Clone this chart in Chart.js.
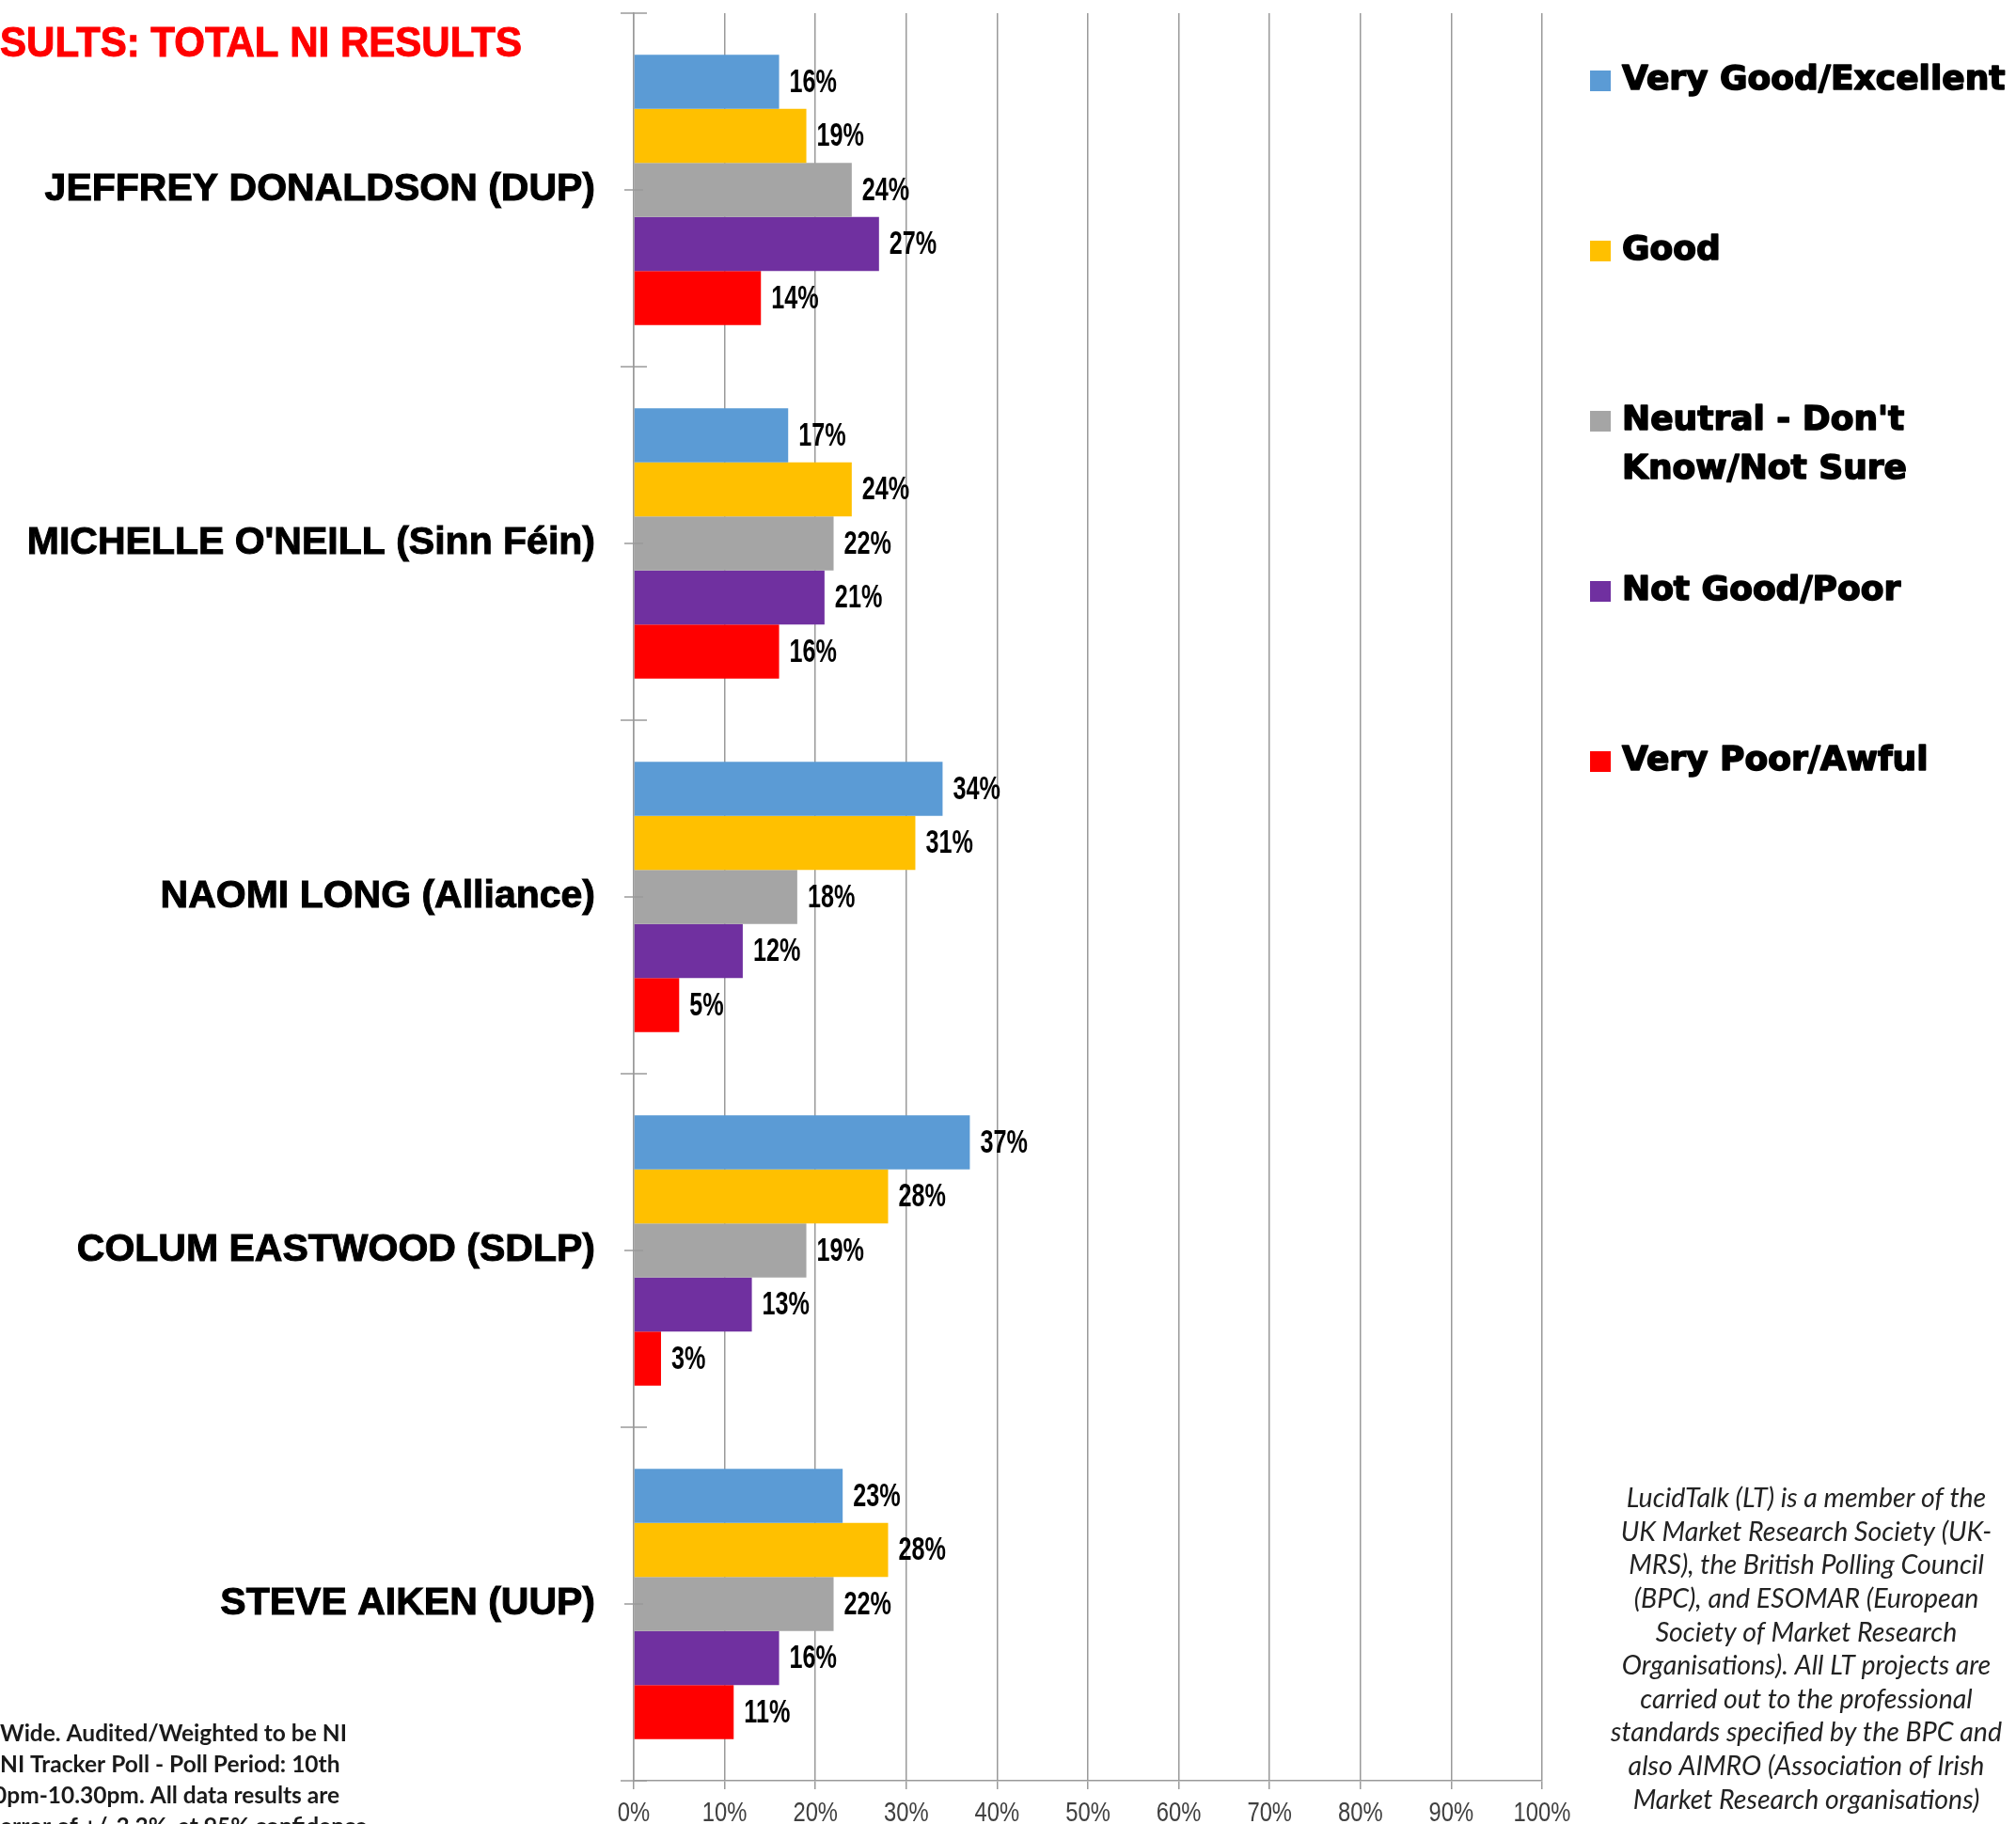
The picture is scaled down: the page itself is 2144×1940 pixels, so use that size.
<!DOCTYPE html>
<html><head><meta charset="utf-8">
<script src="https://cdn.jsdelivr.net/npm/chart.js@4/dist/chart.umd.min.js"></script>
<style>html,body{margin:0;padding:0;background:#fff;} canvas{display:block;}</style>
</head><body>
<canvas id="c" width="2144" height="1940"></canvas>
<script>
const categories = ['JEFFREY DONALDSON (DUP)', "MICHELLE O'NEILL (Sinn Féin)", 'NAOMI LONG (Alliance)', 'COLUM EASTWOOD (SDLP)', 'STEVE AIKEN (UUP)'];
const seriesNames = ['Very Good/Excellent', 'Good', "Neutral - Don't Know/Not Sure", 'Not Good/Poor', 'Very Poor/Awful'];
const veryGood = [16, 17, 34, 37, 23];
const good = [19, 24, 31, 28, 28];
const neutral = [24, 22, 18, 19, 22];
const notGood = [27, 21, 12, 13, 16];
const veryPoor = [14, 16, 5, 3, 11];
const xTickValues = [0, 10, 20, 30, 40, 50, 60, 70, 80, 90, 100];
const seriesColors = ['#5B9BD5', '#FFC000', '#A5A5A5', '#7030A0', '#FF0000'];
const titleText = 'SULTS: TOTAL NI RESULTS';
const noteLeft = ['Wide. Audited/Weighted to be NI', 'NI Tracker Poll - Poll Period: 10th', '0pm-10.30pm. All data results are', 'error of +/-3.3%, at 95% confidence'];
const noteRight = ['LucidTalk (LT) is a member of the', 'UK Market Research Society (UK-', 'MRS), the British Polling Council', '(BPC), and ESOMAR (European', 'Society of Market Research', 'Organisations). All LT projects are', 'carried out to the professional', 'standards specified by the BPC and', 'also AIMRO (Association of Irish', 'Market Research organisations)'];

const seriesValues = [veryGood, good, neutral, notGood, veryPoor];
const GRID = '#9a9a9a';

function condensedText(ctx, text, x, y, squeeze) {
  const w = ctx.measureText(text).width;
  ctx.fillText(text, x, y, w * squeeze);
}

function zeroPad(scale) {
  scale.paddingTop = 0; scale.paddingBottom = 0; scale.paddingLeft = 0; scale.paddingRight = 0;
}

const bgPlugin = {
  id: 'bg',
  beforeDraw(chart) {
    const ctx = chart.ctx;
    ctx.save(); ctx.fillStyle = '#fff'; ctx.fillRect(0, 0, chart.width, chart.height); ctx.restore();
  }
};

const axisMarks = {
  id: 'axisMarks',
  afterDraw(chart) {
    const ctx = chart.ctx, y = chart.scales.y, x = chart.scales.x, area = chart.chartArea;
    ctx.save();
    ctx.strokeStyle = GRID; ctx.lineWidth = 1.5;
    const n = categories.length;
    for (let i = 0; i < n; i++) {
      const c = y.getPixelForValue(i);
      ctx.beginPath(); ctx.moveTo(area.left - 10, c); ctx.lineTo(area.left + 10, c); ctx.stroke();
    }
    for (let i = 0; i <= n; i++) {
      let b;
      if (i === 0) b = area.top; else if (i === n) b = area.bottom;
      else b = (y.getPixelForValue(i - 1) + y.getPixelForValue(i)) / 2;
      ctx.beginPath(); ctx.moveTo(area.left - 14, b); ctx.lineTo(area.left + 14, b); ctx.stroke();
    }
    ctx.fillStyle = '#404040';
    ctx.font = '29px "Liberation Sans", Arial, sans-serif';
    ctx.textBaseline = 'middle';
    xTickValues.forEach(v => {
      const t = v + '%';
      const w = ctx.measureText(t).width * 0.82;
      ctx.textAlign = 'left';
      ctx.fillText(t, x.getPixelForValue(v) - w / 2, area.bottom + 35, w);
    });
    ctx.restore();
  }
};

const dataLabels = {
  id: 'dataLabels',
  afterDatasetsDraw(chart) {
    const ctx = chart.ctx;
    ctx.save();
    ctx.font = 'bold 35px "Liberation Sans", Arial, sans-serif';
    ctx.fillStyle = '#000'; ctx.textAlign = 'left'; ctx.textBaseline = 'middle';
    chart.data.datasets.forEach((ds, di) => {
      const meta = chart.getDatasetMeta(di);
      meta.data.forEach((bar, i) => {
        condensedText(ctx, ds.data[i] + '%', bar.x + 11, bar.y + 1, 0.72);
      });
    });
    ctx.restore();
  }
};

function wrapText(ctx, text, maxW) {
  const words = text.split(' ');
  const lines = []; let cur = '';
  words.forEach(w => {
    const t = cur ? cur + ' ' + w : w;
    if (ctx.measureText(t).width > maxW && cur) { lines.push(cur); cur = w; } else cur = t;
  });
  if (cur) lines.push(cur);
  return lines;
}

const customLegend = {
  id: 'customLegend',
  afterDraw(chart) {
    const ctx = chart.ctx;
    ctx.save();
    ctx.font = 'bold 36px "DejaVu Sans", sans-serif';
    ctx.textBaseline = 'middle'; ctx.textAlign = 'left';
    ctx.lineWidth = 1.6; ctx.lineJoin = 'round';
    chart.data.datasets.forEach((ds, i) => {
      const yc = 86 + 181 * i;
      ctx.fillStyle = ds.backgroundColor;
      ctx.fillRect(1691, yc - 11, 22, 22);
      ctx.fillStyle = '#000'; ctx.strokeStyle = '#000';
      const lines = wrapText(ctx, ds.label, 430);
      lines.forEach((ln, k) => {
        ctx.fillText(ln, 1725, yc + 52 * k, 410);
        ctx.strokeText(ln, 1725, yc + 52 * k, 410);
      });
    });
    ctx.restore();
  }
};

const texts = {
  id: 'texts',
  afterDraw(chart) {
    const ctx = chart.ctx;
    ctx.save();
    ctx.fillStyle = '#FF0000'; ctx.strokeStyle = '#FF0000'; ctx.lineWidth = 1;
    ctx.font = 'bold 45px "Liberation Sans", Arial, sans-serif';
    ctx.textBaseline = 'middle'; ctx.textAlign = 'left';
    ctx.fillText(titleText, 0, 48, 555);
    ctx.strokeText(titleText, 0, 48, 555);

    ctx.fillStyle = '#1a1a1a';
    ctx.font = 'bold 24.5px Lato, "Open Sans", sans-serif';
    const lx = [0, 0, -7, 0];
    noteLeft.forEach((t, i) => ctx.fillText(t, lx[i], 1844 + 33 * i));

    ctx.fillStyle = '#222';
    ctx.font = 'italic 28.5px Lato, "Open Sans", sans-serif';
    ctx.textAlign = 'center';
    noteRight.forEach((t, i) => ctx.fillText(t, 1921, 1594 + 35.6 * i));
    ctx.restore();
  }
};

new Chart(document.getElementById('c'), {
  type: 'bar',
  data: {
    labels: categories,
    datasets: seriesNames.map((name, i) => ({
      label: name,
      data: seriesValues[i],
      backgroundColor: seriesColors[i],
      borderWidth: 0,
      categoryPercentage: 0.764,
      barPercentage: 1.0
    }))
  },
  options: {
    indexAxis: 'y',
    responsive: false,
    animation: false,
    devicePixelRatio: 1,
    layout: { autoPadding: false, padding: { left: 0, right: 504, top: 14, bottom: 0 } },
    plugins: { legend: { display: false }, tooltip: { enabled: false }, title: { display: false } },
    scales: {
      x: {
        min: 0, max: 100,
        afterBuildTicks(scale) { scale.ticks = xTickValues.map(v => ({ value: v })); },
        afterFit(scale) { scale.height = 46; zeroPad(scale); },
        grid: { color: GRID, lineWidth: 1.5, tickLength: 9, drawTicks: true },
        border: { color: GRID, width: 1.5 },
        ticks: { display: false }
      },
      y: {
        afterFit(scale) { scale.width = 674; zeroPad(scale); },
        grid: { display: true, drawOnChartArea: false, drawTicks: false, color: GRID },
        border: { color: GRID, width: 1.5 },
        ticks: {
          font: { family: '"Liberation Sans", Arial, sans-serif', size: 41, weight: 'bold', lineHeight: 0.5 },
          color: '#000', padding: 41, textStrokeColor: '#000', textStrokeWidth: 1
        }
      }
    }
  },
  plugins: [bgPlugin, axisMarks, dataLabels, customLegend, texts]
});
</script>
</body></html>
